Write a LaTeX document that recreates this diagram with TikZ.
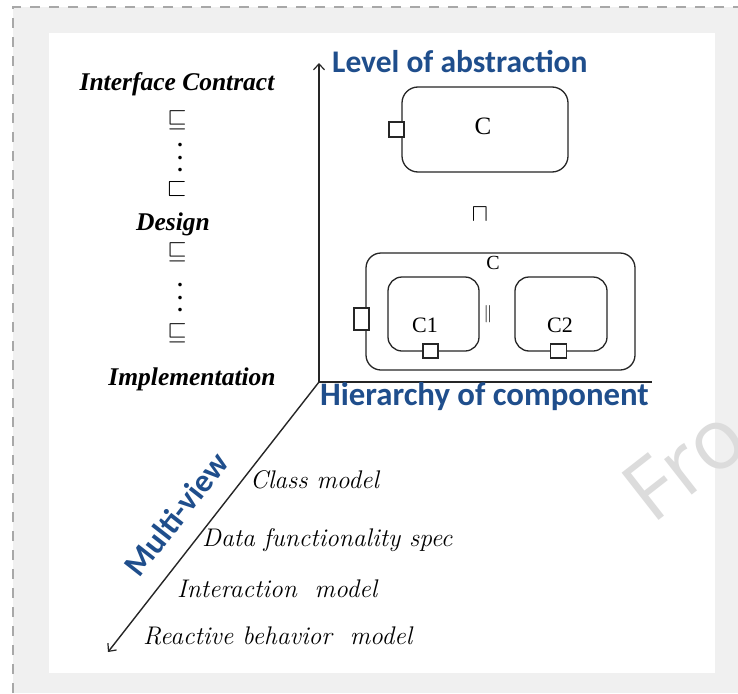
\documentclass[tikz,border=0pt]{standalone}
\usepackage{amssymb}
\usepackage{fontspec}
\newfontfamily\carlito{Carlito}
\newfontfamily\libser{Liberation Serif}
\newfontfamily\wmfont{Open Sans}
\usetikzlibrary{arrows.meta}
\definecolor{axblue}{HTML}{1F4E8C}
\definecolor{bggray}{HTML}{F0F0F0}
\definecolor{dashgray}{HTML}{A8A8A8}
\definecolor{wmgray}{HTML}{DCDCDC}
\tikzset{
  axis/.style={line width=1.4pt, draw=black!85},
  axarrow/.style={-{Straight Barb[length=6pt,width=11pt,line width=1.2pt]}},
  axlabel/.style={text=axblue, font=\carlito\bfseries\fontsize{31.5}{34}\selectfont, inner sep=0pt},
  cbox/.style={draw=black!85, line width=1.3pt, rounded corners=16pt, inner sep=0pt},
  port/.style={draw=black!85, fill=white, line width=1.2pt, inner sep=0pt},
  clabel/.style={font=\libser\fontsize{22}{24}\selectfont, inner sep=0pt},
  levlabel/.style={font=\libser\bfseries\itshape\fontsize{25.5}{28}\selectfont, inner sep=0pt, anchor=base},
  relsym/.style={font=\fontsize{26}{28}\selectfont, inner sep=0pt},
  dotcol/.style={font=\libser\bfseries\fontsize{22}{12.5}\selectfont, align=center, inner sep=0pt},
  viewlabel/.style={font=\itshape\fontsize{25.5}{28}\selectfont, inner sep=0pt, anchor=base west},
}
\begin{document}
\begin{tikzpicture}[x=1pt,y=-1pt]
\useasboundingbox (0,0) rectangle (738,693);
\fill[white] (0,0) rectangle (738,693);
\fill[bggray] (13,7) rectangle (738,693);
\draw[dashgray, line width=2.2pt, dash pattern=on 10pt off 9pt] (13,693) -- (13,7) -- (738,7);
\fill[white] (49,33) rectangle (715,673);
% watermark
\begin{scope}
\clip (0,0) rectangle (738,693);
\node[rotate=38, anchor=base west, text=wmgray, font=\wmfont\fontsize{84}{84}\selectfont, inner sep=0pt] (wm) at (652,526) {Fro};
\end{scope}

% axes
\coordinate (O) at (319,382);
\coordinate (Ytop) at (319,63);
\coordinate (Xend) at (652,382);
\coordinate (Zend) at (108,652);
\draw[axis, axarrow] (O) -- (Ytop);
\draw[axis] (O) -- (Xend);
\draw[axis, axarrow] (O) -- (Zend);

\node[axlabel, anchor=base west] (lev) at (332,72) {Level of abstraction};
\node[axlabel, anchor=base west, font=\carlito\bfseries\fontsize{32.8}{35}\selectfont] (hier) at (320,405) {Hierarchy of component};
\node[axlabel, rotate=52, font=\carlito\bfseries\fontsize{32.5}{35}\selectfont] (mv) at (176,514) {Multi-view};

% left column
\node[levlabel] (ic) at (177,90) {Interface Contract};
\node[relsym] (s1) at (177,120) {$\sqsubseteq$};
\node[dotcol] (d1) at (180,158) {.\\.\\.};
\node[relsym] (s2) at (177,189) {$\sqsubset$};
\node[levlabel] (des) at (173,230) {Design};
\node[relsym] (s3) at (177,252) {$\sqsubseteq$};
\node[dotcol] (d2) at (180,298) {.\\.\\.};
\node[relsym] (s4) at (177,333) {$\sqsubseteq$};
\node[levlabel] (impl) at (192,385) {Implementation};

% top component
\node[cbox, minimum width=166pt, minimum height=85pt] (topC) at (485,129.5) {};
\node[clabel, font=\libser\fontsize{25}{27}\selectfont] (topCt) at (483,126) {C};
\node[port, minimum width=15pt, minimum height=15pt] (topP) at (396.5,129.5) {};
\node[relsym] (meet) at (480,215) {$\sqcap$};

% composite component
\node[cbox, rounded corners=15pt, minimum width=269pt, minimum height=117pt] (outC) at (500.5,311.5) {};
\node[clabel, font=\libser\fontsize{20}{22}\selectfont] (outCt) at (493,263) {C};
\node[port, minimum width=15pt, minimum height=22pt] (outP) at (361.5,319) {};
\node[cbox, rounded corners=14pt, minimum width=91pt, minimum height=74pt] (c1) at (433.5,314) {};
\node[clabel] (c1t) at (425,325) {C1};
\node[port, minimum width=15pt, minimum height=14pt] (c1P) at (430.5,351) {};
\node[relsym, font=\fontsize{17}{18}\selectfont] (par) at (488,314) {$\parallel$};
\node[cbox, rounded corners=14pt, minimum width=92pt, minimum height=74pt] (c2) at (561,314) {};
\node[clabel] (c2t) at (560,325) {C2};
\node[port, minimum width=16pt, minimum height=14pt] (c2P) at (558.5,351) {};

% views
\node[viewlabel] (v1) at (250,488) {Class model};
\node[viewlabel] (v2) at (202,546) {Data functionality spec};
\node[viewlabel] (v3) at (177,597) {Interaction\ \ model};
\node[viewlabel] (v4) at (143,644) {Reactive behavior\ \ model};
\end{tikzpicture}
\end{document}
